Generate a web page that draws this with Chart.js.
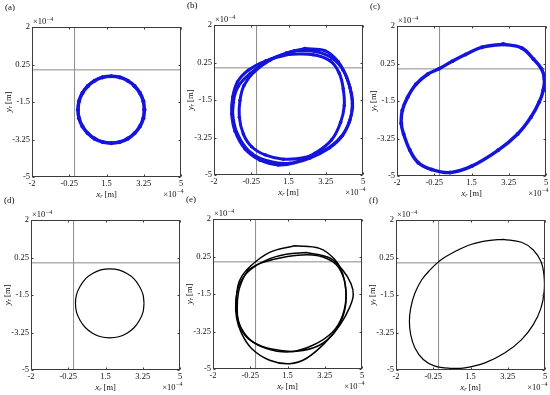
<!DOCTYPE html>
<html>
<head>
<meta charset="utf-8">
<script src="https://cdn.jsdelivr.net/npm/chart.js@4.4.1/dist/chart.umd.min.js"></script>
<style>
  html, body { margin: 0; padding: 0; background: #fff; overflow: hidden; }
  body { width: 550px; height: 395px; position: relative; }
  canvas { position: absolute; }
</style>
</head>
<body>
<canvas id="pa" width="192" height="200" style="left:0px;top:0px"></canvas>
<canvas id="pb" width="192" height="200" style="left:182px;top:-2px"></canvas>
<canvas id="pc" width="192" height="200" style="left:365px;top:-1px"></canvas>
<canvas id="pd" width="192" height="200" style="left:-1px;top:193px"></canvas>
<canvas id="pe" width="192" height="200" style="left:181px;top:192px"></canvas>
<canvas id="pf" width="192" height="200" style="left:364px;top:193px"></canvas>
<script>
// axes (valeurs en unites de 1e-4 m)
const xTicks = [-2, -0.25, 1.5, 3.25, 5];
const yTicks = [-5, -3.25, -1.5, 0.25, 2];
const crossAt = 0; // lignes de reference x=0, y=0

// (a) orbite circulaire - points bleus
const aX = [3.28, 3.23, 3.07, 2.82, 2.50, 2.12, 1.72, 1.32, 0.94, 0.62, 0.37, 0.21, 0.16, 0.21, 0.37, 0.62, 0.94, 1.32, 1.72, 2.12, 2.50, 2.82, 3.07, 3.23, 3.28];
const aY = [-1.86, -1.46, -1.08, -0.76, -0.51, -0.35, -0.30, -0.35, -0.51, -0.76, -1.08, -1.46, -1.86, -2.26, -2.64, -2.96, -3.21, -3.37, -3.42, -3.37, -3.21, -2.96, -2.64, -2.26, -1.86];

// (b) trois boucles - points bleus
const b1X = [2.27, 3.21, 3.84, 4.23, 4.46, 4.51, 4.35, 3.95, 3.21, 2.27, 1.26, 0.40, -0.23, -0.62, -0.81, -0.78, -0.59, -0.12, 0.63, 1.41, 2.27];
const b1Y = [0.90, 0.80, 0.28, -0.43, -1.21, -1.83, -2.54, -3.24, -3.84, -4.18, -4.26, -4.06, -3.68, -3.09, -2.30, -1.52, -0.82, -0.19, 0.36, 0.70, 0.90];
const b2X = [1.57, 2.66, 3.45, 3.88, 4.07, 4.12, 3.95, 3.52, 2.74, 1.80, 1.02, 0.16, -0.54, -1.01, -1.17, -1.12, -0.90, -0.39, 0.44, 1.57];
const b2Y = [0.64, 0.61, 0.33, -0.24, -0.97, -1.76, -2.54, -3.37, -3.99, -4.42, -4.53, -4.31, -3.79, -2.96, -2.15, -1.36, -0.66, -0.11, 0.33, 0.64];
const b3X = [1.80, 2.82, 3.57, 4.07, 4.39, 4.50, 4.39, 4.04, 3.42, 2.51, 1.57, 0.63, -0.23, -0.81, -1.09, -1.09, -0.86, -0.31, 0.63, 1.80];
const b3Y = [0.80, 0.75, 0.44, -0.11, -0.93, -1.68, -2.43, -3.16, -3.74, -4.21, -4.45, -4.37, -3.99, -3.27, -2.46, -1.60, -0.86, -0.27, 0.39, 0.80];

// (c) ellipse inclinee - points bleus
const cX = [2.99, 3.85, 4.42, 4.79, 4.92, 4.87, 4.68, 4.29, 3.67, 2.76, 1.51, 0.49, -0.37, -1.00, -1.40, -1.69, -1.80, -1.75, -1.50, -1.11, -0.56, -0.03, 0.60, 1.22, 2.00, 2.99];
const cY = [1.15, 0.98, 0.45, 0.00, -0.46, -1.00, -1.55, -2.26, -3.04, -3.79, -4.54, -4.84, -4.70, -4.38, -3.79, -3.04, -2.54, -1.94, -1.32, -0.72, -0.25, 0.00, 0.36, 0.67, 1.01, 1.15];

// (d) cercle - trait noir
const dX = [3.31, 3.26, 3.09, 2.84, 2.51, 2.12, 1.70, 1.28, 0.89, 0.56, 0.31, 0.14, 0.09, 0.14, 0.31, 0.56, 0.89, 1.28, 1.70, 2.12, 2.51, 2.84, 3.09, 3.26, 3.31];
const dY = [-1.89, -1.47, -1.09, -0.75, -0.50, -0.33, -0.28, -0.33, -0.50, -0.75, -1.09, -1.47, -1.89, -2.31, -2.69, -3.03, -3.28, -3.45, -3.50, -3.45, -3.28, -3.03, -2.69, -2.31, -1.89];

// (e) trois boucles - trait noir
const e1X = [1.83, 3.00, 3.70, 4.09, 4.25, 4.17, 3.78, 3.00, 1.91, 0.82, -0.12, -0.66, -0.89, -0.89, -0.74, -0.27, 0.66, 1.83];
const e1Y = [0.75, 0.63, 0.13, -0.54, -1.40, -2.33, -3.19, -3.89, -4.17, -4.08, -3.73, -3.11, -2.33, -1.55, -0.85, -0.23, 0.44, 0.75];
const e2X = [2.38, 3.47, 4.09, 4.48, 4.59, 4.43, 4.01, 3.31, 2.38, 1.60, 0.66, -0.19, -0.66, -0.89, -0.93, -0.77, -0.35, 0.51, 1.44, 2.38];
const e2Y = [0.44, 0.19, -0.38, -1.01, -1.55, -2.10, -2.88, -3.73, -4.51, -4.75, -4.59, -4.04, -3.34, -2.64, -1.86, -1.08, -0.46, 0.08, 0.35, 0.44];
const e3X = [-0.35, 0.20, 1.44, 2.69, 3.62, 4.09, 4.25, 4.09, 3.62, 2.69, 1.60, 0.51, -0.35, -0.77, -0.86, -0.80, -0.58, -0.35];
const e3Y = [-0.38, -0.07, 0.24, 0.32, 0.01, -0.62, -1.55, -2.49, -3.27, -3.89, -4.20, -4.04, -3.58, -2.95, -2.18, -1.40, -0.77, -0.38];

// (f) ellipse inclinee - trait noir
const fX = [3.04, 3.90, 4.45, 4.81, 4.95, 4.96, 4.81, 4.45, 3.90, 3.12, 2.18, 1.24, 0.54, -0.17, -0.72, -1.11, -1.31, -1.37, -1.31, -1.11, -0.79, -0.40, 0.07, 0.77, 1.55, 2.33, 3.04];
const fY = [1.10, 0.96, 0.60, 0.06, -0.56, -1.33, -2.11, -2.88, -3.58, -4.20, -4.67, -4.90, -4.92, -4.82, -4.51, -3.97, -3.35, -2.73, -2.11, -1.41, -0.79, -0.33, 0.11, 0.53, 0.87, 1.04, 1.10];

const serif = '"Liberation Serif", "DejaVu Serif", serif';
const blue = '#1414dc';

// transforme deux listes en points {x, y}
const pts = (xs, ys) => xs.map((v, i) => ({ x: v, y: ys[i] }));

function blueSet(xs, ys, w) {
    return { data: pts(xs, ys), showLine: true, borderColor: blue, backgroundColor: blue,
             borderWidth: w, pointRadius: w * 0.58, pointBorderWidth: 0, tension: 0.38, order: 1 };
}
function blackSet(xs, ys, w) {
    return { data: pts(xs, ys), showLine: true, borderColor: '#000', borderWidth: w,
             pointRadius: 0, tension: 0.38, order: 1 };
}

// lignes grises de reference
function crossSets() {
    const xs = [xTicks[0], xTicks[xTicks.length - 1]];
    const ys = [yTicks[0], yTicks[yTicks.length - 1]];
    const style = { showLine: true, borderColor: '#8a8a8a', borderWidth: 1, pointRadius: 0, order: 5 };
    return [
        { ...style, data: pts([crossAt, crossAt], ys) },
        { ...style, data: pts(xs, [crossAt, crossAt]) },
    ];
}

// texte "x10^-4"
function drawSci(ctx, x, y, alignRight) {
    ctx.font = '8.5px ' + serif;
    const w1 = ctx.measureText('\u00d710').width;
    ctx.font = '6px ' + serif;
    const w2 = ctx.measureText('\u22124').width;
    const x0 = alignRight ? x - w1 - w2 : x;
    ctx.font = '8.5px ' + serif;
    ctx.fillText('\u00d710', x0, y);
    ctx.font = '6px ' + serif;
    ctx.fillText('\u22124', x0 + w1 + 0.5, y - 3.5);
}

// titre d'axe avec indice : x_r [m]
function drawAxisTitle(ctx, letter, cx, y) {
    ctx.font = 'italic 9px ' + serif;
    const w1 = ctx.measureText(letter).width;
    ctx.font = 'italic 6px ' + serif;
    const w2 = ctx.measureText('r').width;
    ctx.font = '8.5px ' + serif;
    const w3 = ctx.measureText(' [m]').width;
    let x = cx - (w1 + w2 + w3) / 2;
    ctx.font = 'italic 9px ' + serif;
    ctx.fillText(letter, x, y);
    ctx.font = 'italic 6px ' + serif;
    ctx.fillText('r', x + w1, y + 1.5);
    ctx.font = '8.5px ' + serif;
    ctx.fillText(' [m]', x + w1 + w2, y);
}

// cadre, graduations internes et textes
const framePlugin = {
    id: 'frame',
    afterDatasetsDraw(chart) {
        const { ctx, chartArea: a, scales: { x, y } } = chart;
        const L = Math.round(a.left) + 0.5, R = Math.round(a.right) - 0.5;
        const T = Math.round(a.top) + 0.5, B = Math.round(a.bottom) - 0.5;
        ctx.save();
        ctx.strokeStyle = '#3c3c3c';
        ctx.lineWidth = 1;
        ctx.strokeRect(L, T, R - L, B - T);
        ctx.beginPath();
        xTicks.forEach(v => {
            const p = Math.round(x.getPixelForValue(v)) + 0.5;
            ctx.moveTo(p, B); ctx.lineTo(p, B - 2);
            ctx.moveTo(p, T); ctx.lineTo(p, T + 2);
        });
        yTicks.forEach(v => {
            const p = Math.round(y.getPixelForValue(v)) + 0.5;
            ctx.moveTo(L, p); ctx.lineTo(L + 2, p);
            ctx.moveTo(R, p); ctx.lineTo(R - 2, p);
        });
        ctx.stroke();
        ctx.restore();
    },
    afterDraw(chart, args, opts) {
        const { ctx, chartArea: a } = chart;
        ctx.save();
        ctx.fillStyle = '#111';
        ctx.textBaseline = 'alphabetic';
        ctx.textAlign = 'left';
        ctx.font = '9px ' + serif;
        ctx.fillText(opts.letter, a.left - 27, a.top - 17);
        drawSci(ctx, a.left + 1, a.top - 3, false);
        drawSci(ctx, a.right + 2, a.bottom + 19.5, true);
        drawAxisTitle(ctx, 'x', (a.left + a.right) / 2, a.bottom + 19.5);
        ctx.translate(a.left - 24.5, (a.top + a.bottom) / 2);
        ctx.rotate(-Math.PI / 2);
        drawAxisTitle(ctx, 'y', 0, 3);
        ctx.restore();
    }
};

const tickFont = { family: serif, size: 8.5 };

function makeChart(id, letter, sets) {
    return new Chart(document.getElementById(id), {
        type: 'scatter',
        data: { datasets: [...crossSets(), ...sets] },
        options: {
            responsive: false,
            animation: false,
            layout: { padding: { left: 4, right: 11, top: 27, bottom: 0 } },
            plugins: { legend: { display: false }, tooltip: { enabled: false }, frame: { letter: letter } },
            scales: {
                x: {
                    type: 'linear', min: xTicks[0], max: xTicks[xTicks.length - 1],
                    afterBuildTicks: s => { s.ticks = xTicks.map(v => ({ value: v })); },
                    afterFit: s => { s.height = 23; },
                    grid: { display: false, drawTicks: false },
                    border: { display: false },
                    ticks: { autoSkip: false, maxRotation: 0, padding: 2, color: '#111', font: tickFont, callback: v => String(v) }
                },
                y: {
                    type: 'linear', min: yTicks[0], max: yTicks[yTicks.length - 1],
                    afterBuildTicks: s => { s.ticks = yTicks.map(v => ({ value: v })); },
                    afterFit: s => { s.width = 28; },
                    grid: { display: false, drawTicks: false },
                    border: { display: false },
                    ticks: { autoSkip: false, padding: 2, color: '#111', font: tickFont, callback: v => String(v) }
                }
            }
        },
        plugins: [framePlugin]
    });
}

makeChart('pa', '(a)', [blueSet(aX, aY, 3.6)]);
makeChart('pb', '(b)', [blueSet(b1X, b1Y, 3), blueSet(b2X, b2Y, 3), blueSet(b3X, b3Y, 3)]);
makeChart('pc', '(c)', [blueSet(cX, cY, 3.4)]);
makeChart('pd', '(d)', [blackSet(dX, dY, 1.2)]);
makeChart('pe', '(e)', [blackSet(e1X, e1Y, 1.5), blackSet(e2X, e2Y, 1.5), blackSet(e3X, e3Y, 1.5)]);
makeChart('pf', '(f)', [blackSet(fX, fY, 1.2)]);
</script>
</body>
</html>
